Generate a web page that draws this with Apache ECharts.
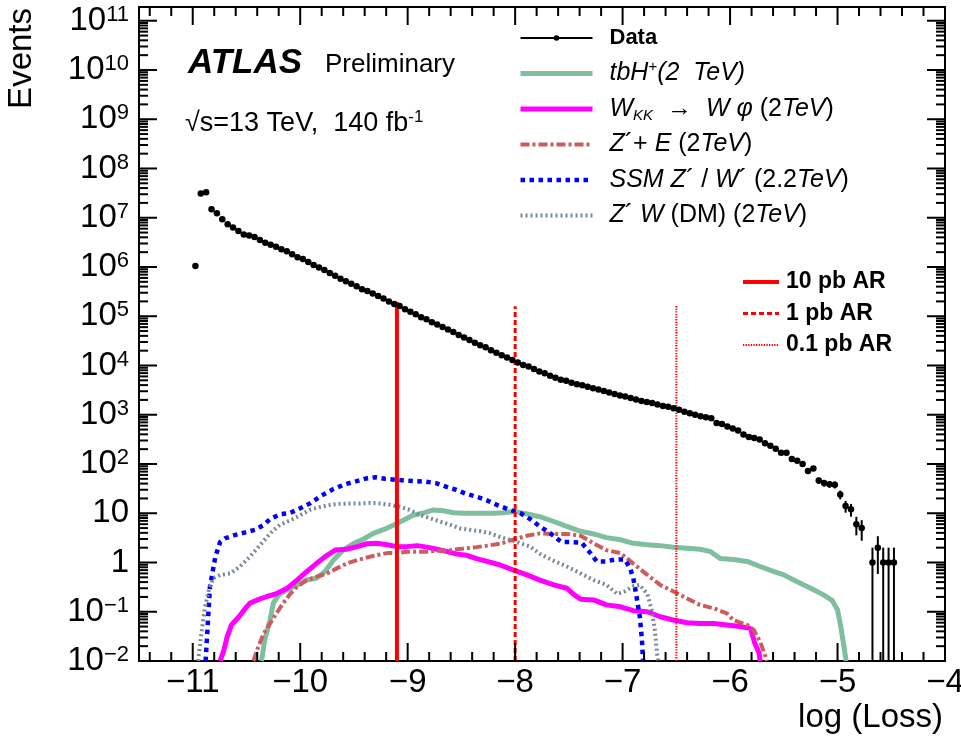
<!DOCTYPE html>
<html>
<head>
<meta charset="utf-8">
<title>ATLAS anomaly score</title>
<script src="https://cdn.jsdelivr.net/npm/echarts@6.0.0/dist/echarts.min.js"></script>
<style>
  html, body { margin: 0; padding: 0; background: #fff; }
  #main { width: 961px; height: 749px; }
</style>
</head>
<body>
<div id="main"></div>
<script>
var FONT = 'Liberation Sans';

// axis ranges
var xMin = -11.5, xMax = -4;
var yMin = 0.01, yMax = 1.9e11;

// data histogram: bins of 0.05 in log(Loss) starting at -11
var binStart = -11;
var binWidth = 0.05;
var dataCounts = [
  1.05e6, 3.09e7, 3.31e7, 1.48e7, 1.23e7, 9.33e6, 7.41e6, 6.31e6, 5.37e6, 4.57e6,
  4.37e6, 4.07e6, 3.55e6, 3.09e6, 2.82e6, 2.57e6, 2.29e6, 2.09e6, 1.82e6, 1.58e6,
  1.45e6, 1.26e6, 1.10e6, 9.77e5, 8.71e5, 7.59e5, 6.61e5, 5.75e5, 5.13e5, 4.57e5,
  4.07e5, 3.55e5, 3.24e5, 2.88e5, 2.57e5, 2.29e5, 2.00e5, 1.78e5, 1.62e5, 1.38e5,
  1.23e5, 1.10e5, 9.55e4, 8.71e4, 7.59e4, 6.76e4, 6.03e4, 5.37e4, 4.79e4, 4.17e4,
  3.72e4, 3.31e4, 2.88e4, 2.57e4, 2.34e4, 2.04e4, 1.82e4, 1.62e4, 1.45e4, 1.29e4,
  11500, 10200, 9550, 8510, 7590, 6920, 6170, 5620, 5130, 4900,
  4470, 4170, 3980, 3720, 3470, 3240, 3020, 2820, 2630, 2450,
  2340, 2190, 2040, 1910, 1820, 1740, 1620, 1510, 1450, 1350,
  1260, 1150, 1070, 1000, 933, 891, 851, 676, 646, 575,
  525, 479, 398, 355, 339, 316, 263, 234, 204, 170,
  170, 126, 117, 100, 72, 81, 46, 41, 39, 38,
  24, 14, 12, 6, 5, null, 1, 2, 1, 1, 1
];

// signal curves [log(Loss), events]
var tbH = [
  [-10.36, 0.01], [-10.33, 0.027], [-10.28, 0.068], [-10.25, 0.15], [-10.20, 0.22], [-10.12, 0.28],
  [-10.03, 0.35], [-9.94, 0.44], [-9.85, 0.48], [-9.77, 0.65], [-9.69, 1.12], [-9.60, 1.8],
  [-9.50, 2.45], [-9.41, 3.0], [-9.32, 3.9], [-9.22, 4.7], [-9.13, 5.8], [-9.04, 7.2],
  [-8.95, 9.1], [-8.85, 10.2], [-8.76, 11.7], [-8.67, 11.2], [-8.57, 10.2], [-8.48, 10],
  [-8.39, 10], [-8.29, 10], [-8.20, 10], [-8.11, 10.2], [-8.01, 10.9], [-7.90, 9.8],
  [-7.77, 8.5], [-7.64, 6.8], [-7.52, 5.4], [-7.39, 4.3], [-7.27, 3.8], [-7.15, 3.2],
  [-7.02, 2.9], [-6.90, 2.45], [-6.77, 2.3], [-6.65, 2.2], [-6.53, 2.05], [-6.40, 1.95],
  [-6.28, 1.86], [-6.18, 1.66], [-6.09, 1.2], [-5.97, 1.15], [-5.84, 1.05], [-5.72, 0.83],
  [-5.59, 0.65], [-5.50, 0.56], [-5.38, 0.41], [-5.25, 0.30], [-5.13, 0.22], [-5.05, 0.17],
  [-5.00, 0.11], [-4.97, 0.05], [-4.94, 0.0195], [-4.92, 0.01]
];
var wkk = [
  [-10.745, 0.01], [-10.71, 0.0166], [-10.68, 0.031], [-10.64, 0.054], [-10.57, 0.079], [-10.51, 0.117],
  [-10.47, 0.148], [-10.40, 0.174], [-10.31, 0.204], [-10.22, 0.234], [-10.12, 0.30], [-10.03, 0.44],
  [-9.94, 0.65], [-9.85, 0.95], [-9.75, 1.4], [-9.67, 1.8], [-9.57, 1.86], [-9.47, 2.1],
  [-9.38, 2.4], [-9.29, 2.45], [-9.19, 2.3], [-9.10, 2.1], [-9.01, 2.1], [-8.91, 2.2],
  [-8.82, 2.05], [-8.73, 1.86], [-8.63, 1.66], [-8.54, 1.48], [-8.45, 1.4], [-8.36, 1.2],
  [-8.26, 1.05], [-8.14, 0.89], [-8.02, 0.71], [-7.89, 0.56], [-7.77, 0.44], [-7.64, 0.35],
  [-7.52, 0.30], [-7.45, 0.22], [-7.39, 0.18], [-7.27, 0.174], [-7.15, 0.138], [-7.02, 0.126],
  [-6.90, 0.105], [-6.77, 0.10], [-6.65, 0.079], [-6.53, 0.068], [-6.40, 0.060], [-6.28, 0.058],
  [-6.15, 0.058], [-6.03, 0.054], [-5.91, 0.050], [-5.81, 0.046], [-5.77, 0.023], [-5.73, 0.0145],
  [-5.72, 0.01]
];
var zPlusE = [
  [-10.435, 0.01], [-10.39, 0.0195], [-10.34, 0.036], [-10.28, 0.058], [-10.22, 0.093], [-10.16, 0.148],
  [-10.09, 0.234], [-10.03, 0.32], [-9.94, 0.44], [-9.85, 0.51], [-9.75, 0.60], [-9.66, 0.76],
  [-9.57, 0.95], [-9.47, 1.12], [-9.38, 1.26], [-9.29, 1.41], [-9.19, 1.55], [-9.10, 1.55],
  [-9.01, 1.66], [-8.91, 1.66], [-8.82, 1.66], [-8.73, 1.74], [-8.63, 1.74], [-8.54, 1.86],
  [-8.45, 1.95], [-8.36, 2.05], [-8.26, 2.2], [-8.14, 2.4], [-8.02, 2.9], [-7.89, 3.5],
  [-7.77, 3.9], [-7.64, 3.8], [-7.52, 3.8], [-7.39, 3.5], [-7.27, 2.45], [-7.15, 1.78],
  [-7.02, 1.55], [-6.90, 0.95], [-6.77, 0.56], [-6.65, 0.35], [-6.53, 0.26], [-6.40, 0.186],
  [-6.28, 0.138], [-6.15, 0.117], [-6.03, 0.093], [-5.97, 0.068], [-5.84, 0.054], [-5.78, 0.043],
  [-5.72, 0.0245], [-5.67, 0.0123], [-5.66, 0.01]
];
var ssm = [
  [-10.88, 0.01], [-10.84, 0.32], [-10.79, 1.3], [-10.745, 2.6], [-10.70, 3.1], [-10.61, 3.6],
  [-10.51, 4.1], [-10.42, 4.6], [-10.34, 5.8], [-10.28, 7.6], [-10.19, 9.5], [-10.09, 10.2],
  [-10.0, 12.6], [-9.91, 15.8], [-9.80, 23], [-9.69, 31], [-9.58, 39], [-9.49, 44],
  [-9.40, 50], [-9.30, 54], [-9.21, 50], [-9.12, 48], [-9.02, 46], [-8.93, 45],
  [-8.84, 44], [-8.74, 41], [-8.65, 35], [-8.55, 30], [-8.46, 25], [-8.37, 22],
  [-8.28, 19], [-8.17, 14.8], [-8.05, 11.7], [-7.95, 10], [-7.86, 7.6], [-7.77, 5.4],
  [-7.67, 3.9], [-7.57, 2.6], [-7.47, 2.6], [-7.38, 2.5], [-7.30, 1.55], [-7.24, 1.05],
  [-7.16, 1.05], [-7.07, 1.15], [-6.98, 1.15], [-6.93, 0.76], [-6.90, 0.48], [-6.87, 0.20],
  [-6.84, 0.08], [-6.82, 0.027], [-6.81, 0.01]
];
var zW = [
  [-10.95, 0.01], [-10.92, 0.036], [-10.885, 0.126], [-10.85, 0.28], [-10.81, 0.48], [-10.745, 0.56],
  [-10.65, 0.60], [-10.56, 0.83], [-10.47, 1.3], [-10.37, 2.3], [-10.28, 3.9], [-10.19, 5.8],
  [-10.09, 7.2], [-10.0, 9.1], [-9.91, 11.7], [-9.81, 13.5], [-9.72, 14.8], [-9.63, 15.5],
  [-9.53, 15.8], [-9.44, 15.8], [-9.35, 16.2], [-9.26, 15.8], [-9.16, 14.8], [-9.07, 13.5],
  [-8.98, 11.7], [-8.88, 9.1], [-8.79, 7.9], [-8.70, 6.8], [-8.60, 5.8], [-8.51, 4.9],
  [-8.42, 4.6], [-8.32, 4.3], [-8.23, 3.9], [-8.14, 3.3], [-8.05, 2.9], [-7.95, 2.45],
  [-7.86, 2.1], [-7.77, 1.5], [-7.65, 1.1], [-7.52, 0.83], [-7.39, 0.60], [-7.27, 0.44],
  [-7.15, 0.35], [-7.05, 0.23], [-6.98, 0.26], [-6.90, 0.33], [-6.84, 0.35], [-6.77, 0.23],
  [-6.73, 0.11], [-6.70, 0.043], [-6.68, 0.0145], [-6.67, 0.01]
];

// anomaly regions (vertical lines)
var arNames = ['10 pb AR', '1 pb AR', '0.1 pb AR'];
var arX = [-9.1, -8.0, -6.5];
var arTop = [1.95e5, 1.6e5, 1.7e5];

// tick positions
var xMajor = [-11, -10, -9, -8, -7, -6, -5, -4];
var yMajor = [1e-2, 1e-1, 1, 10, 1e2, 1e3, 1e4, 1e5, 1e6, 1e7, 1e8, 1e9, 1e10, 1e11];
var xMinor = [];
for (var i = -57; i <= -21; i++) {
  if (i % 5 !== 0) xMinor.push(i / 5);
}
var yMinor = [];
for (var k = -2; k <= 10; k++) {
  for (var m = 2; m <= 9; m++) yMinor.push(m * Math.pow(10, k));
}

// data points and poisson error bars
var dataPts = [], dataErr = [];
dataCounts.forEach(function (n, idx) {
  if (n == null) return;
  var x = binStart + (idx + 0.5) * binWidth;
  dataPts.push([x, n]);
  var e = Math.sqrt(n);
  dataErr.push([x, Math.max(n - e, yMin), n + e]);
});

var legendText = {
  'Data': '{bold|Data}',
  'tbH': '{it|tbH}{sup|+}{it|(2  TeV)}',
  'WKK': '{it|W}{sub|KK}{n|  \u2192  }{it|W \u03c6}{n| (2}{it|TeV}{n|)}',
  'ZE': '{it|Z}{n|\u00b4+ }{it|E}{n| (2}{it|TeV}{n|)}',
  'SSM': '{it|SSM Z}{n|\u00b4 / }{it|W}{n|\u00b4 (2.2}{it|TeV}{n|)}',
  'ZW': '{it|Z}{n|\u00b4 }{it|W}{n| (DM) (2}{it|TeV}{n|)}'
};

function powLabel(v) {
  var k = Math.round(Math.log10(v));
  if (k === 0) return '{b|1}';
  if (k === 1) return '{b|10}';
  return '{b|10}{s|' + (k < 0 ? '\u2212' + (-k) : k) + '}';
}

var blackLine = { color: '#000', width: 2 };

var xAxes = [{
  type: 'value', min: xMin, max: xMax, position: 'bottom',
  axisLine: { show: true, onZero: false, lineStyle: blackLine },
  axisTick: { show: false },
  axisLabel: {
    show: true, customValues: xMajor, margin: 5, fontSize: 33, fontFamily: FONT, color: '#000',
    formatter: function (v) { return v < 0 ? '\u2212' + (-v) : String(v); }
  },
  splitLine: { show: false }
}, {
  type: 'value', min: xMin, max: xMax, position: 'top',
  axisLine: { show: true, onZero: false, lineStyle: blackLine },
  axisTick: { show: false }, axisLabel: { show: false }, splitLine: { show: false }
}];

var yAxes = [{
  type: 'log', logBase: 10, min: yMin, max: yMax, position: 'left',
  axisLine: { show: true, onZero: false, lineStyle: blackLine },
  axisTick: { show: false },
  axisLabel: {
    show: true, customValues: yMajor, margin: 10, color: '#000', formatter: powLabel,
    rich: {
      b: { fontSize: 33, fontFamily: FONT, color: '#000', lineHeight: 34 },
      s: { fontSize: 22, fontFamily: FONT, color: '#000', lineHeight: 26, verticalAlign: 'top' }
    }
  },
  splitLine: { show: false }, minorTick: { show: false }
}, {
  type: 'log', logBase: 10, min: yMin, max: yMax, position: 'right',
  axisLine: { show: true, onZero: false, lineStyle: blackLine },
  axisTick: { show: false }, axisLabel: { show: false }, splitLine: { show: false }
}];

var lineLook = {
  tbH: { color: '#7fbf9f', width: 5, type: 'solid' },
  WKK: { color: '#ff00ff', width: 5, type: 'solid' },
  ZE: { color: '#cd5c5c', width: 4, type: [9, 3, 3, 3] },
  SSM: { color: '#0000ff', width: 4.5, type: [4.5, 4.5] },
  ZW: { color: '#778899', width: 4, type: [2, 3] },
  '10 pb AR': { color: '#ff0000', width: 4, type: 'solid' },
  '1 pb AR': { color: '#ff0000', width: 3, type: [5, 3] },
  '0.1 pb AR': { color: '#ff0000', width: 2, type: [1.3, 1.3] }
};

function curve(name, pts) {
  return {
    name: name, type: 'line', data: pts, symbol: 'none', clip: true,
    lineStyle: lineLook[name], itemStyle: { color: lineLook[name].color },
    z: 2
  };
}

// frame ticks: one custom series per side and length; the tick value goes
// through the axis scale, the tick is drawn inward from the frame edge
var xMid = (xMin + xMax) / 2, yMid = Math.sqrt(yMin * yMax);
function tickSeries(values, side, len) {
  var isX = side === 'bottom' || side === 'top';
  return {
    name: 'ticks-' + side + '-' + len, type: 'custom', clip: true, z: 4,
    data: values.map(function (v) { return isX ? [v, yMid, yMid] : [xMid, v, v]; }),
    encode: { x: 0, y: [1, 2] },
    renderItem: function (params, api) {
      var cs = params.coordSys;
      var p = api.coord([api.value(0), api.value(1)]);
      var s;
      if (side === 'bottom') s = { x1: p[0], y1: cs.y + cs.height, x2: p[0], y2: cs.y + cs.height - len };
      else if (side === 'top') s = { x1: p[0], y1: cs.y, x2: p[0], y2: cs.y + len };
      else if (side === 'left') s = { x1: cs.x, y1: p[1], x2: cs.x + len, y2: p[1] };
      else s = { x1: cs.x + cs.width, y1: p[1], x2: cs.x + cs.width - len, y2: p[1] };
      return { type: 'line', shape: s, style: { stroke: '#000', lineWidth: 2 } };
    }
  };
}

var series = [
  curve('tbH', tbH), curve('WKK', wkk), curve('ZE', zPlusE), curve('SSM', ssm), curve('ZW', zW)
];
arNames.forEach(function (nm, j) {
  var s = curve(nm, [[arX[j], yMin], [arX[j], arTop[j]]]);
  s.z = 3;
  series.push(s);
});
series.push({
  name: 'DataErr', type: 'custom', data: dataErr, clip: true, z: 4,
  encode: { x: 0, y: [1, 2] },
  renderItem: function (params, api) {
    var a = api.coord([api.value(0), api.value(1)]);
    var b = api.coord([api.value(0), api.value(2)]);
    return { type: 'line', shape: { x1: a[0], y1: a[1], x2: b[0], y2: b[1] },
      style: { stroke: '#000', lineWidth: 2 } };
  }
});
series.push({
  name: 'Data', type: 'line', data: dataPts, symbol: 'circle', symbolSize: 6.5,
  showSymbol: true, showAllSymbol: true, clip: true, z: 5,
  lineStyle: { width: 0, opacity: 0 }, itemStyle: { color: '#000' }
});
['bottom', 'top'].forEach(function (side) {
  series.push(tickSeries(xMajor, side, 18));
  series.push(tickSeries(xMinor, side, 9));
});
['left', 'right'].forEach(function (side) {
  series.push(tickSeries(yMajor, side, 18));
  series.push(tickSeries(yMinor, side, 9));
});

function legendItem(name) {
  var l = lineLook[name];
  return { name: name, lineStyle: { color: l.color, width: l.width, type: l.type, opacity: 1 },
    itemStyle: { opacity: 0 } };
}

var texts = [
  { type: 'text', x: 22, y: 8, rotation: Math.PI / 2, silent: true,
    style: { text: 'Events', fontFamily: FONT, fontSize: 33, fill: '#000', align: 'right', verticalAlign: 'middle' } },
  { type: 'text', x: 943, y: 718, silent: true,
    style: { text: 'log (Loss)', fontFamily: FONT, fontSize: 33, fill: '#000', align: 'right', verticalAlign: 'middle' } },
  { type: 'text', x: 188, y: 63, silent: true,
    style: { text: 'ATLAS', fontFamily: FONT, fontSize: 35, fontWeight: 'bold', fontStyle: 'italic',
      fill: '#000', align: 'left', verticalAlign: 'middle' } },
  { type: 'text', x: 325, y: 65, silent: true,
    style: { text: 'Preliminary', fontFamily: FONT, fontSize: 26, fill: '#000', align: 'left', verticalAlign: 'middle' } },
  { type: 'text', x: 185, y: 124, silent: true,
    style: { text: '{n|\u221as=13 TeV,  140 fb}{s|-1}', align: 'left', verticalAlign: 'middle',
      rich: {
        n: { fontFamily: FONT, fontSize: 27, fill: '#000', color: '#000', lineHeight: 30 },
        s: { fontFamily: FONT, fontSize: 17, fill: '#000', color: '#000', lineHeight: 18, verticalAlign: 'top' }
      } } }
];

var chart = echarts.init(document.getElementById('main'), null, { renderer: 'canvas' });
chart.setOption({
  animation: false,
  backgroundColor: '#fff',
  textStyle: { fontFamily: FONT },
  grid: { left: 139, right: 16, top: 7, bottom: 88, containLabel: false, outerBoundsMode: 'none' },
  xAxis: xAxes,
  yAxis: yAxes,
  legend: [
    {
      orient: 'vertical', left: 518, top: 24, padding: 0, itemGap: 7.5,
      itemWidth: 72, itemHeight: 7, selectedMode: false,
      data: [
        { name: 'Data', lineStyle: { color: '#000', width: 2, type: 'solid', opacity: 1 },
          itemStyle: { color: '#000', opacity: 1 } },
        legendItem('tbH'), legendItem('WKK'), legendItem('ZE'), legendItem('SSM'), legendItem('ZW')
      ],
      formatter: function (name) { return legendText[name]; },
      textStyle: {
        fontFamily: FONT, fontSize: 25, color: '#000', lineHeight: 28, padding: [0, 0, 0, 12],
        rich: {
          n: { fontSize: 25, fontFamily: FONT, color: '#000', lineHeight: 28 },
          it: { fontSize: 25, fontFamily: FONT, color: '#000', fontStyle: 'italic', lineHeight: 28 },
          bold: { fontSize: 22, fontFamily: FONT, color: '#000', fontWeight: 'bold', lineHeight: 28 },
          sup: { fontSize: 15, fontFamily: FONT, color: '#000', lineHeight: 16, verticalAlign: 'top' },
          sub: { fontSize: 15, fontFamily: FONT, color: '#000', fontStyle: 'italic', lineHeight: 14, verticalAlign: 'bottom' }
        }
      }
    },
    {
      orient: 'vertical', left: 741, top: 269, padding: 0, itemGap: 5.5,
      itemWidth: 36, itemHeight: 7, selectedMode: false,
      data: arNames.map(legendItem),
      textStyle: { fontFamily: FONT, fontSize: 23, fontWeight: 'bold', color: '#000',
        lineHeight: 26, padding: [0, 0, 0, 2] }
    }
  ],
  graphic: texts,
  series: series
});
</script>
</body>
</html>
